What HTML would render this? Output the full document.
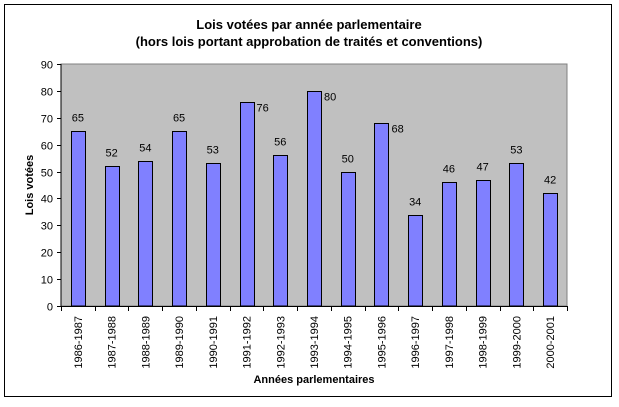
<!DOCTYPE html>
<html><head><meta charset="utf-8"><style>
body{margin:0;background:#fff;}
svg{display:block;font-family:"Liberation Sans",Arial,sans-serif;}
</style></head><body>
<svg id="c" width="619" height="407">
<rect x="4.5" y="4.5" width="607" height="392" fill="#fff" stroke="#000"/>
<text x="309" y="29" text-anchor="middle" font-size="13" font-weight="bold">Lois votées par année parlementaire</text>
<text x="309" y="46" text-anchor="middle" font-size="13" font-weight="bold">(hors lois portant approbation de traités et conventions)</text>
<text transform="translate(33,185) rotate(-90)" text-anchor="middle" font-size="11" font-weight="bold">Lois votées</text>
<text x="314" y="383" text-anchor="middle" font-size="11" font-weight="bold">Années parlementaires</text>
</svg>
<script>
const categories=["1986-1987","1987-1988","1988-1989","1989-1990","1990-1991","1991-1992","1992-1993","1993-1994","1994-1995","1995-1996","1996-1997","1997-1998","1998-1999","1999-2000","2000-2001"];
const values=[65,52,54,65,53,76,56,80,50,68,34,46,47,53,42];
const sideLabel=[0,0,0,0,0,1,0,1,0,1,0,0,0,0,0];
const yTicks=[0,10,20,30,40,50,60,70,80,90];
const svg=document.getElementById('c');const NS='http://www.w3.org/2000/svg';
const L=61,R=567,T=64,B=306,yMax=90;
const bw=(R-L)/categories.length;
const y=v=>B-(v/yMax)*(B-T);
const x=i=>L+i*bw;
function mk(t,a){const e=document.createElementNS(NS,t);for(const k in a)e.setAttribute(k,a[k]);svg.appendChild(e);return e;}
let e=mk('rect',{x:L,y:T,width:R-L,height:B-T,fill:'#c0c0c0',stroke:'#808080'});


e=mk('line',{x1:L,y1:T,x2:L,y2:B,stroke:'#000'});


e=mk('line',{x1:L,y1:B+0.5,x2:R,y2:B+0.5,stroke:'#000'});


yTicks.forEach(t=>{
 const yy=Math.round(y(t))+0.5;
 e=mk('line',{x1:L-4,y1:yy,x2:L,y2:yy,stroke:'#000'});
 
 
 e=mk('text',{x:L-8,y:yy+4,'text-anchor':'end','font-size':11});e.textContent=t;
 
 
});
for(let i=0;i<=categories.length;i++){
 const xx=Math.round(x(i))+0.5;
 e=mk('line',{x1:xx,y1:B,x2:xx,y2:B+5,stroke:'#000'});
 
 
}
categories.forEach((c,i)=>{
 const cx=x(i)+bw/2;
 const bx=Math.round(cx-7)+0.5, top=Math.round(y(values[i]))+0.5;
 e=mk('rect',{x:bx,y:top,width:14,height:B-top,fill:'#8080ff',stroke:'#000'});
 
 
 e=sideLabel[i]?mk('text',{x:cx+10,y:top+9,'font-size':11}):mk('text',{x:cx,y:top-10,'text-anchor':'middle','font-size':11});
 e.textContent=values[i];
 
 
 e=mk('text',{transform:`translate(${cx+4},${B+10}) rotate(-90)`,'text-anchor':'end','font-size':11});
 e.textContent=c;
 
 
});
</script>
</body></html>
